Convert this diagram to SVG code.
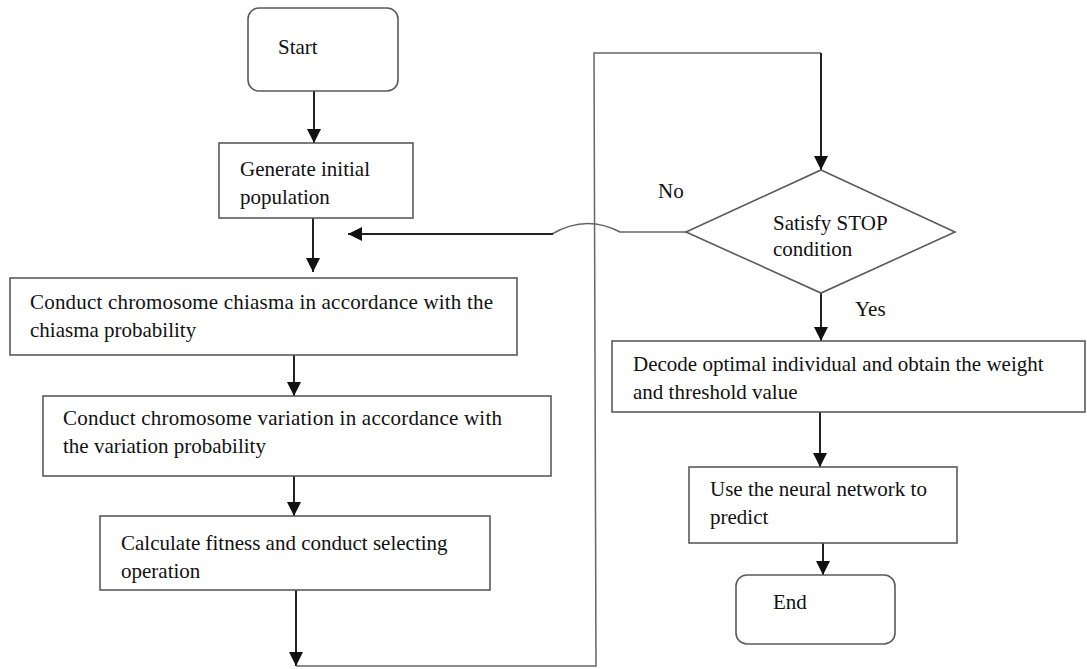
<svg xmlns="http://www.w3.org/2000/svg" width="1087" height="669" viewBox="0 0 1087 669">
<defs>
<marker id="ahL" viewBox="0 0 10 10" refX="10" refY="5" markerWidth="16" markerHeight="14" markerUnits="userSpaceOnUse" orient="auto"><path d="M0,0 L10,5 L0,10 z" fill="#111"/></marker>
<style>
.box{fill:#fff;stroke:#5a5a5a;stroke-width:1.6}
.t{font-family:"Liberation Serif",serif;font-size:21px;fill:#111}
.c{fill:none;stroke:#222;stroke-width:2}
.g{fill:none;stroke:#666;stroke-width:1.5}
</style>
</defs>
<rect width="1087" height="669" fill="#fff"/>
<g id="connectors">
<line class="c" x1="314" y1="91" x2="314" y2="143" marker-end="url(#ahL)"/>
<line class="c" x1="313" y1="218" x2="313" y2="272" marker-end="url(#ahL)"/>
<line class="c" x1="294" y1="343" x2="294" y2="396" marker-end="url(#ahL)"/>
<line class="c" x1="294" y1="476" x2="294" y2="516" marker-end="url(#ahL)"/>
<line class="c" x1="296" y1="590" x2="296" y2="666" marker-end="url(#ahL)"/>
<polyline class="g" points="296,666 596,666 594,53 821,53"/>
<line class="c" x1="821" y1="53" x2="821" y2="170" marker-end="url(#ahL)"/>
<path class="g" d="M686,232 L620,232 Q586,214 552,234"/>
<line class="c" x1="553" y1="234" x2="348" y2="234" marker-end="url(#ahL)"/>
<line class="c" x1="821" y1="293" x2="821" y2="341" marker-end="url(#ahL)"/>
<line class="c" x1="820" y1="412" x2="820" y2="467" marker-end="url(#ahL)"/>
<line class="c" x1="823" y1="543" x2="823" y2="575" marker-end="url(#ahL)"/>
<text class="t" x="658" y="198">No</text>
<text class="t" x="855" y="316">Yes</text>
</g>
<g id="start"><rect class="box" x="248" y="8" width="150" height="83" rx="11"/><text class="t" x="278" y="54">Start</text></g>
<g id="generate"><rect class="box" x="219" y="143" width="194" height="75"/><text class="t" x="240" y="176">Generate initial</text><text class="t" x="240" y="204">population</text></g>
<g id="chiasma"><rect class="box" x="10" y="278" width="507" height="77"/><text class="t" x="30" y="309" textLength="463">Conduct chromosome chiasma in accordance with the</text><text class="t" x="30" y="337">chiasma probability</text></g>
<g id="variation"><rect class="box" x="43" y="396" width="508" height="80"/><text class="t" x="63" y="425" textLength="439">Conduct chromosome variation in accordance with</text><text class="t" x="63" y="453">the variation probability</text></g>
<g id="fitness"><rect class="box" x="100" y="516" width="390" height="74"/><text class="t" x="121" y="550">Calculate fitness and conduct selecting</text><text class="t" x="121" y="578">operation</text></g>
<g id="stop"><polygon class="box" points="821,170 955,232 821,293 686,232"/><text class="t" x="773" y="230">Satisfy STOP</text><text class="t" x="773" y="256">condition</text></g>
<g id="decode"><rect class="box" x="612" y="341" width="473" height="71"/><text class="t" x="633" y="371">Decode optimal individual and obtain the weight</text><text class="t" x="633" y="399">and threshold value</text></g>
<g id="predict"><rect class="box" x="689" y="467" width="268" height="76"/><text class="t" x="710" y="496">Use the neural network to</text><text class="t" x="710" y="524">predict</text></g>
<g id="end"><rect class="box" x="736" y="575" width="159" height="69" rx="11"/><text class="t" x="773" y="609">End</text></g>
</svg>
